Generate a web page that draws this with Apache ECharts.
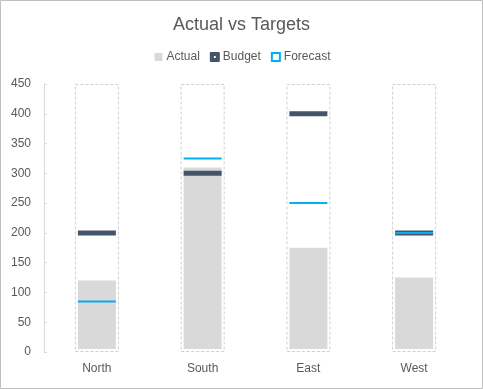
<!DOCTYPE html>
<html>
<head>
<meta charset="utf-8">
<script src="https://cdn.jsdelivr.net/npm/echarts@6/dist/echarts.min.js"></script>
<style>
html,body{margin:0;padding:0;background:#fff;}
#c{width:483px;height:389px;}
</style>
</head>
<body>
<div id="c"></div>
<script>
const categories = ['North', 'South', 'East', 'West'];
const actual = [125, 315, 180, 130];
const budget = [200, 300, 400, 200];
const forecast = [85, 325, 250, 200];
const rangeMax = [450, 450, 450, 450];
const yTicks = { min: 0, max: 450, interval: 50 };

const chart = echarts.init(document.getElementById('c'), null, { renderer: 'canvas' });
const txt = '#595959';
const font = 'Liberation Sans';

chart.setOption({
  animation: false,
  backgroundColor: '#fff',
  title: {
    text: 'Actual vs Targets',
    left: 'center',
    top: 11,
    textStyle: { fontFamily: font, fontSize: 18, fontWeight: 'normal', color: txt }
  },
  legend: {
    top: 46,
    left: 'center',
    itemWidth: 10,
    itemHeight: 10,
    itemGap: 10,
    textStyle: { fontFamily: font, fontSize: 12, color: txt, padding: [0, 0, 0, -2] },
    data: [
      { name: 'Actual', icon: 'rect', itemStyle: { color: '#d9d9d9', opacity: 1 } },
      { name: 'Budget', icon: 'path://M1,0H10Q11,0 11,1V10Q11,11 10,11H1Q0,11 0,10V1Q0,0 1,0Z M4.5,4.5V6.5H6.5V4.5Z', itemStyle: { color: '#44546a', opacity: 1 } },
      { name: 'Forecast', icon: 'path://M0,0H10V10H0Z M2,2V8H8V2Z', itemStyle: { color: '#00b0f0', opacity: 1 } }
    ]
  },
  grid: { left: 44, right: 16, top: 84, bottom: 37 },
  xAxis: [
    {
      type: 'category',
      data: categories,
      axisLine: { show: false },
      axisTick: { show: false },
      axisLabel: { fontFamily: font, fontSize: 12, color: txt, margin: 11 }
    },
    { type: 'category', data: categories, show: false }
  ],
  yAxis: {
    type: 'value',
    min: yTicks.min,
    max: yTicks.max,
    interval: yTicks.interval,
    splitLine: { show: false },
    axisLine: { show: true, lineStyle: { color: '#d9d9d9' } },
    axisTick: { show: true, inside: true, length: 3, lineStyle: { color: '#d9d9d9' } },
    axisLabel: { fontFamily: font, fontSize: 12, color: txt, margin: 13 }
  },
  graphic: [{
    type: 'rect', silent: true, z: 100,
    shape: { x: 0.5, y: 0.5, width: 482, height: 388 },
    style: { fill: 'none', stroke: '#bfbfbf', lineWidth: 1 }
  }],
  series: [
    {
      name: 'RangeBg', type: 'bar', xAxisIndex: 1, data: rangeMax, barWidth: 44, barGap: '-100%',
      itemStyle: { color: '#ffffff' }, z: 1, silent: true
    },
    {
      name: 'Actual', type: 'bar', xAxisIndex: 0, data: actual, barWidth: 44,
      itemStyle: { color: '#d9d9d9', borderColor: '#ffffff', borderWidth: 3 }, z: 2
    },
    {
      name: 'RangeOutline', type: 'bar', xAxisIndex: 1, data: rangeMax, barWidth: 44, barGap: '-100%',
      itemStyle: { color: 'rgba(0,0,0,0)', borderColor: '#d0d0d0', borderWidth: 1, borderType: [3, 2] }, z: 3, silent: true
    },
    {
      name: 'Budget', type: 'scatter', data: budget, symbol: 'rect', symbolSize: [38, 5],
      itemStyle: { color: '#44546a', opacity: 1 }, z: 4
    },
    {
      name: 'Forecast', type: 'scatter', data: forecast, symbol: 'rect', symbolSize: [38, 2],
      itemStyle: { color: '#00b0f0', opacity: 1 }, z: 5
    }
  ]
});
</script>
</body>
</html>
